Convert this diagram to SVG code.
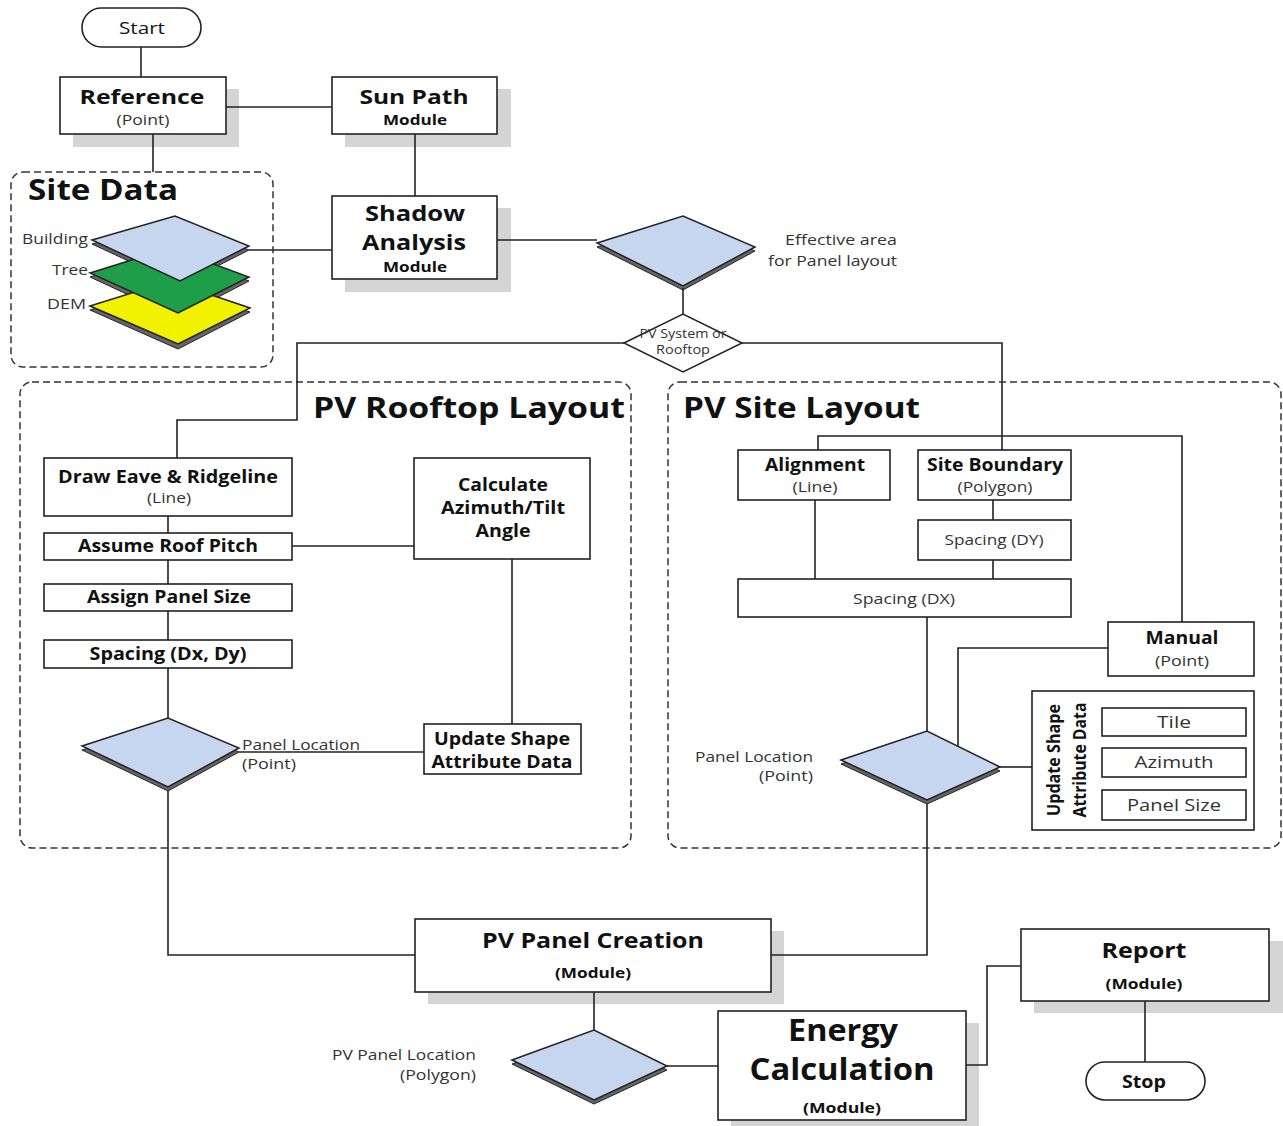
<svg xmlns="http://www.w3.org/2000/svg" width="1283" height="1126" viewBox="0 0 1283 1126">
<style>
text{font-family:"Open Sans","Noto Sans","DejaVu Sans",sans-serif;fill:#111;}
.b{font-weight:700;}
.m{text-anchor:middle;}
.e{text-anchor:end;}
.box{fill:#fff;stroke:#222;stroke-width:1.6;}
.sh{fill:#d4d4d4;}
.dash{fill:none;stroke:#333;stroke-width:1.5;stroke-dasharray:7 4;}
.ln{fill:none;stroke:#222;stroke-width:1.6;}
.dia{fill:#c6d6ee;stroke:#222;stroke-width:1.5;}
.thk{fill:#666;stroke:#222;stroke-width:1;}
.wd{fill:#fff;stroke:#222;stroke-width:1.5;}
.lab{font-size:14px;fill:#333;}
.g{fill:#333;}
</style>

<g id="containers">
  <rect x="11" y="172" width="262" height="195" rx="12" class="dash"/>
  <rect x="20" y="382" width="611" height="466" rx="12" class="dash"/>
  <rect x="668" y="382" width="613" height="466" rx="12" class="dash"/>
  <text x="28" y="200" class="b" font-size="28" textLength="150" lengthAdjust="spacingAndGlyphs">Site Data</text>
  <text x="313" y="418" class="b" font-size="28" textLength="312" lengthAdjust="spacingAndGlyphs">PV Rooftop Layout</text>
  <text x="683" y="418" class="b" font-size="28" textLength="237" lengthAdjust="spacingAndGlyphs">PV Site Layout</text>
</g>

<g id="start">
  <rect x="82" y="8" width="119" height="39" rx="19.5" class="box"/>
  <text x="142" y="34" class="m" font-size="17" textLength="46" lengthAdjust="spacingAndGlyphs">Start</text>
</g>

<g id="reference">
  <rect x="73" y="89" width="166" height="58" class="sh"/>
  <rect x="60" y="77" width="166" height="57" class="box"/>
  <text x="142" y="104" class="b m" font-size="20" textLength="125" lengthAdjust="spacingAndGlyphs">Reference</text>
  <text x="143" y="125" class="m g" font-size="14" textLength="53" lengthAdjust="spacingAndGlyphs">(Point)</text>
</g>

<g id="sunpath">
  <rect x="345" y="89" width="166" height="58" class="sh"/>
  <rect x="332" y="77" width="165" height="57" class="box"/>
  <text x="414" y="104" class="b m" font-size="20" textLength="109" lengthAdjust="spacingAndGlyphs">Sun Path</text>
  <text x="415" y="125" class="b m" font-size="14" textLength="64" lengthAdjust="spacingAndGlyphs">Module</text>
</g>

<g id="sitedata">
  <path class="thk" d="M92 244L175 220L249 250L180 285Z"/>
  <path class="thk" d="M90 277L170 252L249 281L178 318Z"/>
  <path class="thk" d="M90 310L170 285L250 312L178 349Z"/>
  <path d="M90 306L170 281L250 308L178 344Z" fill="#f2f200" stroke="#222" stroke-width="1.5"/>
  <path d="M90 273L170 248L249 277L178 313Z" fill="#1e9e48" stroke="#222" stroke-width="1.5"/>
  <path d="M92 240L175 216L249 246L180 281Z" fill="#c6d6ee" stroke="#222" stroke-width="1.5"/>
  <text x="88" y="244" class="lab e" textLength="66" lengthAdjust="spacingAndGlyphs">Building</text>
  <text x="88" y="275" class="lab e" textLength="36" lengthAdjust="spacingAndGlyphs">Tree</text>
  <text x="86" y="309" class="lab e" textLength="39" lengthAdjust="spacingAndGlyphs">DEM</text>
</g>

<g id="shadow">
  <rect x="345" y="208" width="166" height="84" class="sh"/>
  <rect x="332" y="196" width="165" height="83" class="box"/>
  <text x="415" y="221" class="b m" font-size="21" textLength="100" lengthAdjust="spacingAndGlyphs">Shadow</text>
  <text x="414" y="250" class="b m" font-size="21" textLength="104" lengthAdjust="spacingAndGlyphs">Analysis</text>
  <text x="415" y="272" class="b m" font-size="14" textLength="64" lengthAdjust="spacingAndGlyphs">Module</text>
</g>

<g id="effective">
  <path class="thk" d="M597 247L683 220L755 251L683 290Z"/>
  <path class="dia" d="M597 243L683 216L755 247L683 286Z"/>
  <text x="897" y="245" class="lab e" textLength="112" lengthAdjust="spacingAndGlyphs">Effective area</text>
  <text x="897" y="266" class="lab e" textLength="129" lengthAdjust="spacingAndGlyphs">for Panel layout</text>
</g>

<g id="pvsystem">
  <path class="wd" d="M624 343L683 314L742 343L683 372Z"/>
  <text x="683" y="338" class="m g" font-size="12.5" textLength="87" lengthAdjust="spacingAndGlyphs">PV System or</text>
  <text x="683" y="354" class="m g" font-size="12.5" textLength="54" lengthAdjust="spacingAndGlyphs">Rooftop</text>
</g>

<g id="draweave">
  <rect x="44" y="458" width="248" height="58" class="box"/>
  <text x="168" y="483" class="b m" font-size="17" textLength="220" lengthAdjust="spacingAndGlyphs">Draw Eave &amp; Ridgeline</text>
  <text x="169" y="503" class="m g" font-size="14" textLength="44" lengthAdjust="spacingAndGlyphs">(Line)</text>
</g>
<g id="roofpitch">
  <rect x="44" y="533" width="248" height="27" class="box"/>
  <text x="168" y="552" class="b m" font-size="17" textLength="180" lengthAdjust="spacingAndGlyphs">Assume Roof Pitch</text>
</g>
<g id="panelsize">
  <rect x="44" y="584" width="248" height="27" class="box"/>
  <text x="169" y="603" class="b m" font-size="17" textLength="164" lengthAdjust="spacingAndGlyphs">Assign Panel Size</text>
</g>
<g id="spacingdxdy">
  <rect x="44" y="640" width="248" height="28" class="box"/>
  <text x="168" y="660" class="b m" font-size="17" textLength="157" lengthAdjust="spacingAndGlyphs">Spacing (Dx, Dy)</text>
</g>
<g id="calcazimuth">
  <rect x="414" y="458" width="176" height="101" class="box"/>
  <text x="503" y="491" class="b m" font-size="17" textLength="90" lengthAdjust="spacingAndGlyphs">Calculate</text>
  <text x="503" y="514" class="b m" font-size="17" textLength="124" lengthAdjust="spacingAndGlyphs">Azimuth/Tilt</text>
  <text x="503" y="537" class="b m" font-size="17" textLength="55" lengthAdjust="spacingAndGlyphs">Angle</text>
</g>
<g id="updateshape1">
  <rect x="424" y="724" width="157" height="50" class="box"/>
  <text x="502" y="745" class="b m" font-size="17" textLength="136" lengthAdjust="spacingAndGlyphs">Update Shape</text>
  <text x="502" y="768" class="b m" font-size="17" textLength="141" lengthAdjust="spacingAndGlyphs">Attribute Data</text>
</g>
<g id="panelloc1">
  <path class="thk" d="M82 750L168 722L239 752L168 791Z"/>
  <path class="dia" d="M82 746L168 718L239 748L168 787Z"/>
  <text x="242" y="750" class="lab" textLength="118" lengthAdjust="spacingAndGlyphs">Panel Location</text>
  <text x="242" y="769" class="lab" textLength="54" lengthAdjust="spacingAndGlyphs">(Point)</text>
</g>

<g id="alignment">
  <rect x="738" y="450" width="152" height="50" class="box"/>
  <text x="815" y="471" class="b m" font-size="17" textLength="100" lengthAdjust="spacingAndGlyphs">Alignment</text>
  <text x="815" y="492" class="m g" font-size="14" textLength="45" lengthAdjust="spacingAndGlyphs">(Line)</text>
</g>
<g id="siteboundary">
  <rect x="918" y="450" width="153" height="50" class="box"/>
  <text x="995" y="471" class="b m" font-size="17" textLength="136" lengthAdjust="spacingAndGlyphs">Site Boundary</text>
  <text x="995" y="492" class="m g" font-size="14" textLength="75" lengthAdjust="spacingAndGlyphs">(Polygon)</text>
</g>
<g id="spacingdy">
  <rect x="918" y="520" width="153" height="40" class="box"/>
  <text x="994" y="545" class="m g" font-size="14" textLength="99" lengthAdjust="spacingAndGlyphs">Spacing (DY)</text>
</g>
<g id="spacingdx">
  <rect x="738" y="579" width="333" height="38" class="box"/>
  <text x="904" y="604" class="m g" font-size="14" textLength="102" lengthAdjust="spacingAndGlyphs">Spacing (DX)</text>
</g>
<g id="manual">
  <rect x="1108" y="622" width="146" height="54" class="box"/>
  <text x="1182" y="644" class="b m" font-size="17" textLength="73" lengthAdjust="spacingAndGlyphs">Manual</text>
  <text x="1182" y="666" class="m g" font-size="14" textLength="54" lengthAdjust="spacingAndGlyphs">(Point)</text>
</g>
<g id="panelloc2">
  <path class="thk" d="M841 764L927 735L1000 771L927 804Z"/>
  <path class="dia" d="M841 760L927 731L1000 767L927 800Z"/>
  <text x="813" y="762" class="lab e" textLength="118" lengthAdjust="spacingAndGlyphs">Panel Location</text>
  <text x="813" y="781" class="lab e" textLength="54" lengthAdjust="spacingAndGlyphs">(Point)</text>
</g>
<g id="updateshape2">
  <rect x="1032" y="691" width="222" height="139" class="box"/>
  <text transform="translate(1060 760) rotate(-90)" class="b m" font-size="17" textLength="112" lengthAdjust="spacingAndGlyphs">Update Shape</text>
  <text transform="translate(1086 760) rotate(-90)" class="b m" font-size="17" textLength="115" lengthAdjust="spacingAndGlyphs">Attribute Data</text>
  <rect x="1102" y="708" width="144" height="28" class="box"/>
  <text x="1174" y="728" class="m g" font-size="17" textLength="34" lengthAdjust="spacingAndGlyphs">Tile</text>
  <rect x="1102" y="748" width="144" height="29" class="box"/>
  <text x="1174" y="768" class="m g" font-size="17" textLength="79" lengthAdjust="spacingAndGlyphs">Azimuth</text>
  <rect x="1102" y="790" width="144" height="30" class="box"/>
  <text x="1174" y="811" class="m g" font-size="17" textLength="94" lengthAdjust="spacingAndGlyphs">Panel Size</text>
</g>

<g id="pvpanelcreation">
  <rect x="428" y="931" width="356" height="73" class="sh"/>
  <rect x="415" y="919" width="356" height="73" class="box"/>
  <text x="593" y="948" class="b m" font-size="21" textLength="222" lengthAdjust="spacingAndGlyphs">PV Panel Creation</text>
  <text x="593" y="978" class="b m" font-size="14" textLength="76" lengthAdjust="spacingAndGlyphs">(Module)</text>
</g>
<g id="pvpanelloc">
  <path class="thk" d="M512 1064L594 1034L667 1070L594 1104Z"/>
  <path class="dia" d="M512 1060L594 1030L667 1066L594 1100Z"/>
  <text x="476" y="1060" class="lab e" textLength="144" lengthAdjust="spacingAndGlyphs">PV Panel Location</text>
  <text x="476" y="1080" class="lab e" textLength="76" lengthAdjust="spacingAndGlyphs">(Polygon)</text>
</g>
<g id="energy">
  <rect x="731" y="1023" width="248" height="103" class="sh"/>
  <rect x="718" y="1011" width="248" height="109" class="box"/>
  <text x="843" y="1041" class="b m" font-size="30" textLength="110" lengthAdjust="spacingAndGlyphs">Energy</text>
  <text x="842" y="1080" class="b m" font-size="30" textLength="185" lengthAdjust="spacingAndGlyphs">Calculation</text>
  <text x="842" y="1113" class="b m" font-size="14" textLength="78" lengthAdjust="spacingAndGlyphs">(Module)</text>
</g>
<g id="report">
  <rect x="1034" y="941" width="249" height="72" class="sh"/>
  <rect x="1021" y="929" width="248" height="72" class="box"/>
  <text x="1144" y="958" class="b m" font-size="21" textLength="85" lengthAdjust="spacingAndGlyphs">Report</text>
  <text x="1144" y="989" class="b m" font-size="14" textLength="77" lengthAdjust="spacingAndGlyphs">(Module)</text>
</g>
<g id="stop">
  <rect x="1086" y="1062" width="119" height="38" rx="19" class="box"/>
  <text x="1144" y="1088" class="b m" font-size="17" textLength="44" lengthAdjust="spacingAndGlyphs">Stop</text>
</g>

<g id="connectors">
  <path class="ln" d="M141 47V77"/>
  <path class="ln" d="M226 107H332"/>
  <path class="ln" d="M153 134V172"/>
  <path class="ln" d="M415 134V196"/>
  <path class="ln" d="M249 250H332"/>
  <path class="ln" d="M497 240H597"/>
  <path class="ln" d="M683 288V314"/>
  <path class="ln" d="M624 343H297V420H177V458"/>
  <path class="ln" d="M742 343H1002V450"/>
  <path class="ln" d="M168 516V533M168 560V584M168 611V640M168 668V718"/>
  <path class="ln" d="M292 546H414"/>
  <path class="ln" d="M512 559V724"/>
  <path class="ln" d="M239 752H424"/>
  <path class="ln" d="M168 791V955H415"/>
  <path class="ln" d="M818 450V436H1182V622"/>
  <path class="ln" d="M993 500V520M993 560V579"/>
  <path class="ln" d="M815 500V579"/>
  <path class="ln" d="M927 617V731"/>
  <path class="ln" d="M1108 648H958V746"/>
  <path class="ln" d="M1000 767H1032"/>
  <path class="ln" d="M927 804V955H771"/>
  <path class="ln" d="M594 992V1030"/>
  <path class="ln" d="M667 1066H718"/>
  <path class="ln" d="M966 1065H987V966H1021"/>
  <path class="ln" d="M1145 1001V1062"/>
</g>
</svg>
